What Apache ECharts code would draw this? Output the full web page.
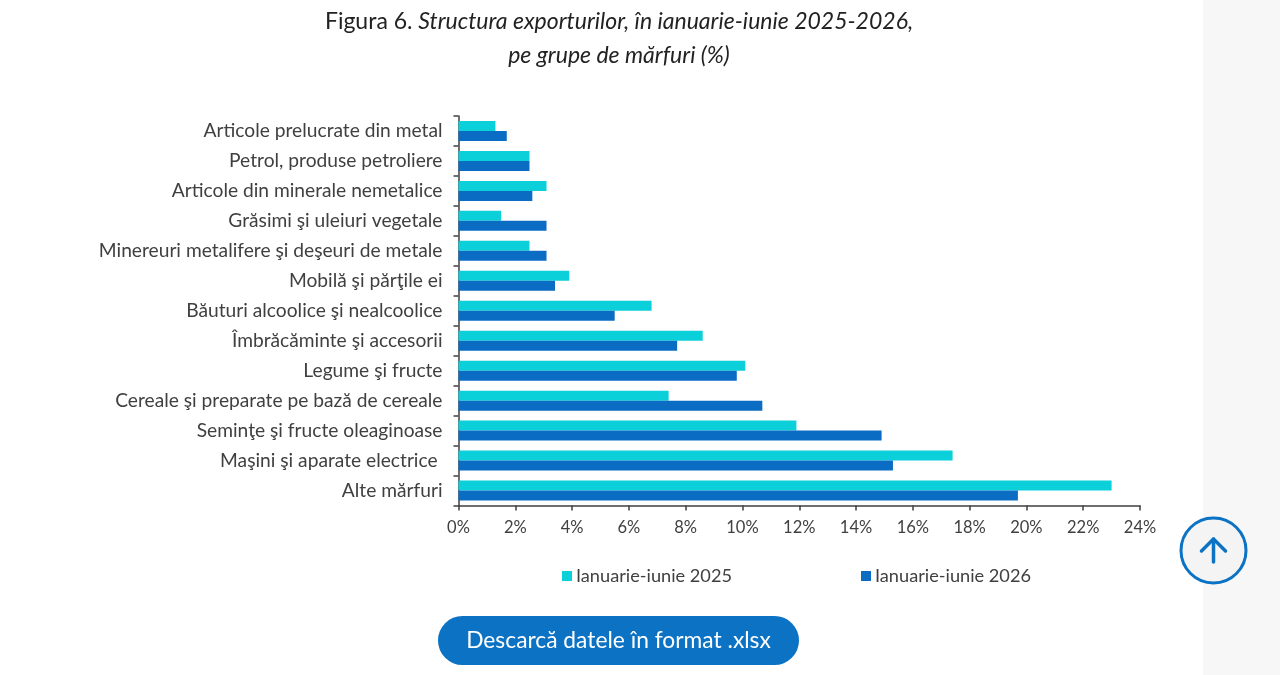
<!DOCTYPE html>
<html>
<head>
<meta charset="utf-8">
<script src="https://cdn.jsdelivr.net/npm/echarts@6/dist/echarts.min.js"></script>
<style>html,body{margin:0;padding:0;background:#fff;overflow:hidden}#c{width:1280px;height:675px}</style>
</head>
<body>
<div id="c"></div>
<script>
const categories = ["Articole prelucrate din metal","Petrol, produse petroliere","Articole din minerale nemetalice","Grăsimi şi uleiuri vegetale","Minereuri metalifere şi deşeuri de metale","Mobilă şi părţile ei","Băuturi alcoolice şi nealcoolice","Îmbrăcăminte şi accesorii","Legume şi fructe","Cereale şi preparate pe bază de cereale","Seminţe şi fructe oleaginoase","Maşini şi aparate electrice ","Alte mărfuri"];
const values2025 = [1.3,2.5,3.1,1.5,2.5,3.9,6.8,8.6,10.1,7.4,11.9,17.4,23.0];
const values2026 = [1.7,2.5,2.6,3.1,3.1,3.4,5.5,7.7,9.8,10.7,14.9,15.3,19.7];
const seriesNames = ["Ianuarie-iunie 2025","Ianuarie-iunie 2026"];
const font = "Lato";
const chart = echarts.init(document.getElementById('c'), null, {renderer:'canvas'});
chart.setOption({
  animation:false,
  backgroundColor:'#fff',
  color:['#0BD0D9','#0B6CC4'],
  textStyle:{fontFamily:font},
  title:{
    left:614, top:0, textAlign:'center',
    text:'{n|Figura 6. }{i|Structura exporturilor, în ianuarie-iunie 2025-2026,}\n{i|pe grupe de mărfuri (%)}',
    textStyle:{fontWeight:'normal',rich:{
      n:{fontFamily:font,fontSize:23,fontWeight:'normal',color:'#222',lineHeight:34},
      i:{fontFamily:font,fontSize:23,fontWeight:'normal',fontStyle:'italic',color:'#222',lineHeight:34}
    }}
  },
  legend:{
    left:557, top:562, itemWidth:10, itemHeight:10, itemGap:129, icon:'rect',
    textStyle:{fontFamily:font,fontSize:18.2,color:'#404040',padding:[0,0,0,-1]},
    data:seriesNames
  },
  grid:{left:458.5,top:116,width:681.5,height:389.5,containLabel:false},
  xAxis:{
    type:'value',min:0,max:24,interval:2,
    axisLine:{show:true,lineStyle:{color:'#404040',width:1.5}},
    axisTick:{show:true,length:5,lineStyle:{color:'#404040',width:1.5}},
    axisLabel:{formatter:'{value}%',fontFamily:font,fontSize:16.5,color:'#404040',margin:14},
    splitLine:{show:false}
  },
  yAxis:{
    type:'category',inverse:true,data:categories,
    axisLine:{show:true,lineStyle:{color:'#404040',width:1.5}},
    axisTick:{show:true,length:5,alignWithLabel:false,lineStyle:{color:'#404040',width:1.5}},
    axisLabel:{fontFamily:font,fontSize:19.2,color:'#404040',margin:16,padding:[2,0,0,0]}
  },
  series:[
    {name:seriesNames[0],type:'bar',data:values2025,barWidth:10,barGap:0},
    {name:seriesNames[1],type:'bar',data:values2026,barWidth:10,barGap:0}
  ],
  graphic:[
    {type:'rect',z:-1,shape:{x:1203,y:0,width:77,height:675},style:{fill:'#F7F7F7'}},
    {type:'circle',shape:{cx:1213.5,cy:550.5,r:32.5},style:{fill:'#F4F4F4',stroke:'#0B72C4',lineWidth:3}},
    {type:'polyline',shape:{points:[[1201.5,551],[1213.5,539],[1225.5,551]]},style:{fill:'none',stroke:'#0B72C4',lineWidth:3.5,lineCap:'round',lineJoin:'round'}},
    {type:'line',shape:{x1:1213.5,y1:539,x2:1213.5,y2:562},style:{stroke:'#0B72C4',lineWidth:3.5,lineCap:'round'}},
    {type:'rect',shape:{x:438,y:616,width:361,height:49,r:24.5},style:{fill:'#0B72C4'}},
    {type:'text',style:{x:618.5,y:640.5,text:'Descarcă datele în format .xlsx',fill:'#fff',font:'22.8px Lato',align:'center',verticalAlign:'middle'}}
  ]
});
</script>
</body>
</html>
